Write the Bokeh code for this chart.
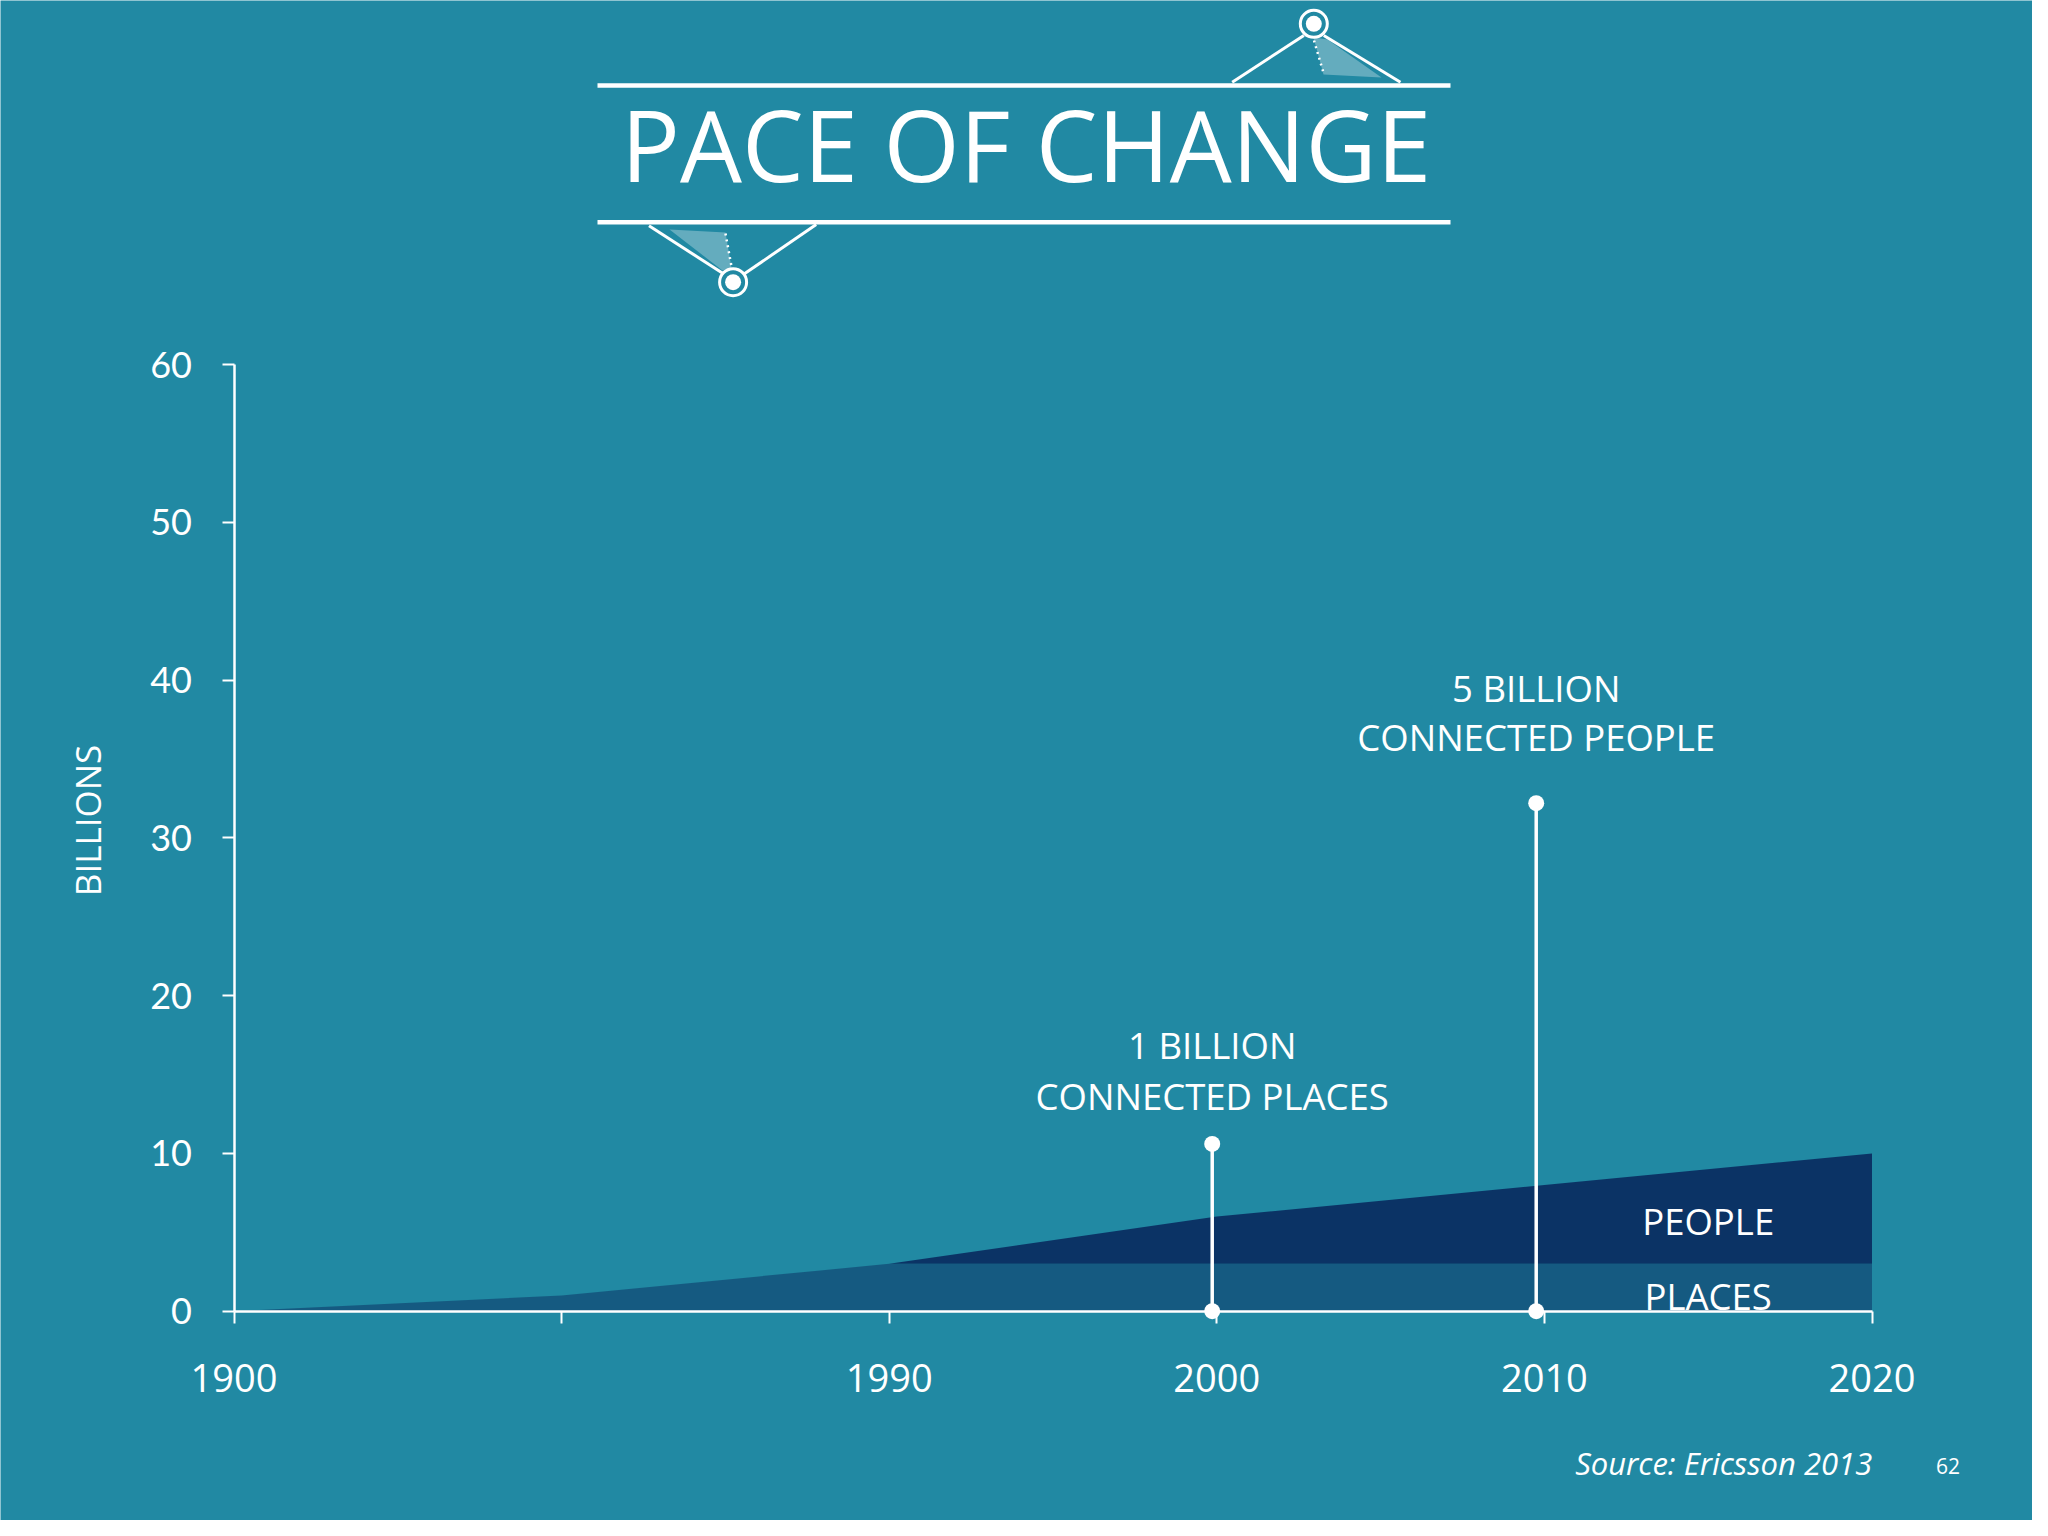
import math
from bokeh.plotting import figure
from bokeh.models import Range1d, FixedTicker
from bokeh.core.properties import value
from bokeh.embed import file_html
from bokeh.resources import INLINE

# ---------------- data ----------------
year_labels = ["1900", "", "1990", "2000", "2010", "2020"]
places = [0.0, 1.0, 3.0, 3.0, 3.0, 3.0]
people = [0.0, 0.0, 0.0, 3.0, 5.0, 7.0]
y_ticks = [0, 10, 20, 30, 40, 50, 60]
marker_years = ["2000", "2010"]
marker_pos = [2.986, 3.975]      # position along the category axis
marker_tops = [10.6, 32.2]
callout_top = ["1 BILLION", "5 BILLION"]
callout_bottom = ["CONNECTED PLACES", "CONNECTED PEOPLE"]
layer_names = ["PLACES", "PEOPLE"]
title_text = "PACE OF CHANGE"
y_label = "BILLIONS"
source_text = "Source: Ericsson 2013"
page_number = "62"

# ---------------- geometry (canvas pixels) ----------------
W, H = 2032, 1520
X0_PIX = 233.5       # canvas x of first category
DX = 327.6           # px per category step
Y0_PIX = 1310.7      # canvas y of value 0
DY = 15.778          # px per unit


def px(xp):
    return (xp - X0_PIX) / DX


def py(yp):
    return (Y0_PIX - yp) / DY


BG = "#2189a3"
WHITE = "#ffffff"
FONT = "Open Sans"

p = figure(width=W, height=H, title=None,
           x_range=Range1d(px(0), px(W)), y_range=Range1d(py(H), py(0)),
           output_backend="svg", toolbar_location=None,
           min_border_left=0, min_border_right=0, min_border_top=0,
           min_border_bottom=0,
           background_fill_color=BG, border_fill_color=BG,
           outline_line_color=None)
p.grid.visible = False

xs = list(range(len(year_labels)))
stack_top = [a + b for a, b in zip(places, people)]

# stacked areas
p.varea(x=xs, y1=[0] * len(xs), y2=places, fill_color="#0b2f62", fill_alpha=0.52)
p.varea(x=xs, y1=places, y2=stack_top, fill_color="#0a3163", fill_alpha=0.97)

# axes (fixed at the data origin)
xa = p.xaxis[0]
xa.ticker = FixedTicker(ticks=xs)
xa.major_label_overrides = {i: lab for i, lab in enumerate(year_labels)}
xa.bounds = (0, len(xs) - 1)
xa.fixed_location = 0
xa.axis_line_color = WHITE
xa.axis_line_width = 2.5
xa.major_tick_line_color = WHITE
xa.major_tick_line_width = 2
xa.major_tick_in = 0
xa.major_tick_out = 12
xa.minor_tick_line_color = None
xa.major_label_text_color = WHITE
xa.major_label_text_font = FONT
xa.major_label_text_font_size = "38px"
xa.major_label_standoff = 41

ya = p.yaxis[0]
ya.ticker = FixedTicker(ticks=y_ticks)
ya.bounds = (0, y_ticks[-1])
ya.fixed_location = 0
ya.axis_line_color = WHITE
ya.axis_line_width = 2.5
ya.major_tick_line_color = WHITE
ya.major_tick_line_width = 2
ya.major_tick_in = 0
ya.major_tick_out = 12
ya.minor_tick_line_color = None
ya.major_label_text_color = WHITE
ya.major_label_text_font = "Lato"
ya.major_label_text_font_size = "36px"
ya.major_label_standoff = 30

# marker stems
mx = list(marker_pos)
p.segment(x0=mx, y0=[0] * len(mx), x1=mx, y1=marker_tops, line_color=WHITE, line_width=3.5)
p.scatter(x=mx + mx, y=marker_tops + [0] * len(mx), size=16, fill_color=WHITE, line_color=None)

TXT = dict(text_color=WHITE, text_align="center", text_baseline="middle")

# callout texts
p.text(x=mx, y=[py(1044.2), py(687.2)], text=callout_top, text_font=value(FONT),
       text_font_size="36.5px", **TXT)
p.text(x=mx, y=[py(1095.0), py(736.7)], text=callout_bottom, text_font=value(FONT),
       text_font_size="36.5px", **TXT)

# layer names
lx = (year_labels.index("2010") + year_labels.index("2020")) / 2
p.text(x=[lx, lx], y=[py(1295.0), py(1220.0)], text=layer_names, text_font=value(FONT),
       text_font_size="36.5px", **TXT)

# title
p.text(x=[px(1025.6)], y=[py(143.3)], text=[title_text], text_font=value(FONT),
       text_font_size="98px", **TXT)
p.segment(x0=[px(597), px(597)], y0=[py(85), py(221.7)], x1=[px(1450), px(1450)],
          y1=[py(85), py(221.7)], line_color=WHITE, line_width=4.5)

# title decorations
p.segment(x0=[px(1231.7), px(1400), px(648.5), px(815.7)],
          y0=[py(81.7), py(81.7), py(225.3), py(224)],
          x1=[px(1303.3), px(1323.3), px(723), px(743.9)],
          y1=[py(35), py(35), py(273.3), py(273.3)],
          line_color=WHITE, line_width=3)
p.patch(x=[px(1313), px(1323), px(1381), px(1327)], y=[py(37), py(74), py(77), py(39)],
        fill_color=WHITE, fill_alpha=0.3, line_color=None)
p.patch(x=[px(669), px(725), px(731), px(722)], y=[py(229), py(232), py(267), py(270)],
        fill_color=WHITE, fill_alpha=0.3, line_color=None)
p.segment(x0=[px(1313.5), px(725)], y0=[py(40), py(233)], x1=[px(1323.3), px(731)],
          y1=[py(73.3), py(266)], line_color=WHITE, line_width=2.5, line_dash="2 4")
p.scatter(x=[px(1313.3), px(732.6)], y=[py(23.3), py(281.7)], size=27,
          fill_color=None, line_color=WHITE, line_width=3)
p.scatter(x=[px(1313.3), px(732.6)], y=[py(23.3), py(281.7)], size=16,
          fill_color=WHITE, line_color=None)

# axis title, source, page number
p.text(x=[px(87)], y=[py(820)], text=[y_label], angle=math.pi / 2,
       text_font=value(FONT), text_font_size="35px", **TXT)
p.text(x=[px(1871.7)], y=[py(1462.7)], text=[source_text], text_font=value(FONT),
       text_font_style="italic", text_font_size="31px", text_color=WHITE,
       text_align="right", text_baseline="middle")
p.text(x=[px(1947.5)], y=[py(1465)], text=[page_number], text_font=value(FONT),
       text_font_size="21px", **TXT)

open("out.html", "w").write(file_html(p, INLINE))
